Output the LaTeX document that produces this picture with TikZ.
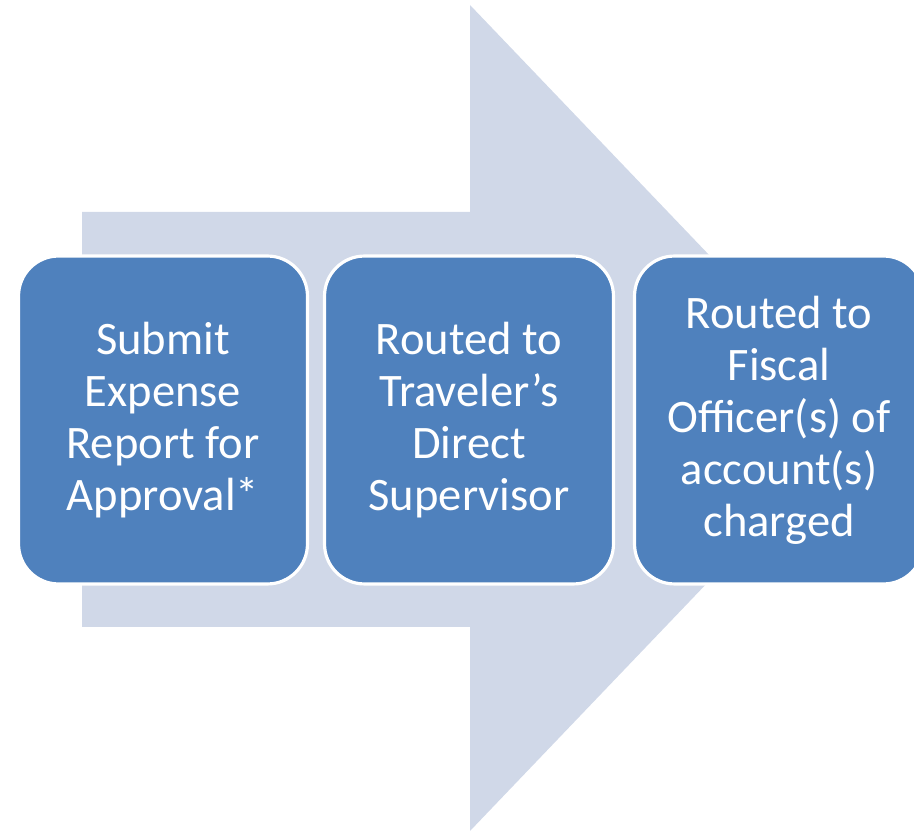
\documentclass[tikz,border=0pt]{standalone}
\usepackage{fontspec}
\setmainfont{Carlito}
\usepackage{tikz}
\usetikzlibrary{shapes,arrows,positioning,calc}

\definecolor{flowbg}{HTML}{D0D8E8}
\definecolor{boxblue}{HTML}{4F81BD}

\tikzset{
  stepbox/.style={draw=white, line width=1.8pt, fill=boxblue, rounded corners=0.8cm,
    minimum width=5.78cm, minimum height=6.56cm, align=center,
    text=white, font=\fontsize{26.5}{29.6}\selectfont, inner sep=0pt}
}

\begin{document}
\begin{tikzpicture}[x=0.02cm, y=0.02cm]
\useasboundingbox (0,0) rectangle (914,-834);
% 背景箭头
\fill[flowbg] (82,-212) -- (470,-212) -- (470,-5) -- (865,-418) -- (470,-831) -- (470,-627) -- (82,-627) -- cycle;

% 步骤
\node[stepbox] (submit) at (163,-420) {Submit\\Expense\\Report for\\Approval*};
\node[stepbox] (supervisor) at (469,-420) {Routed to\\Traveler’s\\Direct\\Supervisor};
\node[stepbox] (fiscal) at (779,-420) {Routed to\\Fiscal\\Officer(s) of\\account(s)\\charged};
\end{tikzpicture}
\end{document}
